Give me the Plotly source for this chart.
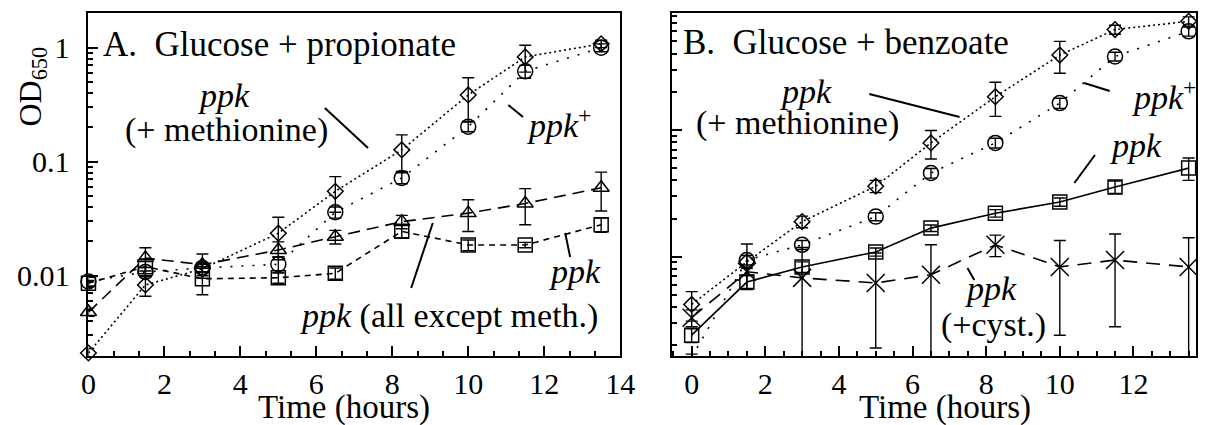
import plotly.graph_objects as go

W, H = 1212, 425

# ---------------- data ----------------
time_h = [0, 1.5, 3, 5, 6.5, 8.25, 10, 11.5, 13.5]

# Panel A: Glucose + propionate
a_ppk_plus = [0.0089, 0.0108, 0.0117, 0.0126, 0.036, 0.072, 0.203, 0.62, 1.0]
a_ppk_plus_err = [0.0008, 0.001, 0.001, 0.002, 0.004, 0.008, 0.02, 0.08, 0.08]
a_ppk_met = [0.0021, 0.0083, 0.0115, 0.0236, 0.055, 0.127, 0.385, 0.83, 1.08]
a_ppk_met_err = [0.0002, 0.0017, 0.0015, 0.009, 0.019, 0.045, 0.16, 0.22, 0.08]
a_ppk_all = [0.0048, 0.0143, 0.0125, 0.0168, 0.022, 0.0298, 0.0354, 0.043, 0.059]
a_ppk_all_err = [0.0004, 0.0033, 0.003, 0.003, 0.003, 0.004, 0.011, 0.015, 0.022]
a_ppk = [0.0086, 0.012, 0.0094, 0.0096, 0.0105, 0.0245, 0.0186, 0.0186, 0.028]
a_ppk_err = [0.0005, 0.002, 0.0026, 0.001, 0.0012, 0.003, 0.002, 0.001, 0.004]

# Panel B: Glucose + benzoate
b_ppk_plus = [0.0016, 0.0094, 0.0124, 0.0207, 0.0457, 0.079, 0.163, 0.38, 0.60]
b_ppk_plus_err = [0.0001, 0.0008, 0.001, 0.0015, 0.004, 0.007, 0.015, 0.03, 0.05]
b_ppk_met = [0.0042, 0.0091, 0.0189, 0.036, 0.079, 0.183, 0.39, 0.62, 0.72]
b_ppk_met_err = [0.0011, 0.0035, 0.002, 0.004, 0.02, 0.055, 0.11, 0.05, 0.06]
b_ppk = [0.0024, 0.0063, 0.0083, 0.0109, 0.0168, 0.022, 0.027, 0.0355, 0.050]
b_ppk_err = [0.0003, 0.0008, 0.0008, 0.0008, 0.001, 0.0015, 0.002, 0.004, 0.01]
b_cyst = [0.0033, 0.0076, 0.0068, 0.0062, 0.0072, 0.0124, 0.0083, 0.0094, 0.0083]
b_cyst_err_plus = [0.0005, 0.0005, 0.005, 0.0045, 0.0052, 0.0024, 0.0051, 0.0057, 0.0058]
b_cyst_err_minus = [0.0005, 0.0005, 0.0068, 0.0043, 0.0072, 0.0024, 0.0059, 0.0066, 0.0083]

FONT = "Liberation Serif"
BLACK = "black"


def px(x):
    return x / W


def py(y):
    return 1 - y / H


def series(xa, ya, yv, ep, em, symbol, size, dash):
    return go.Scatter(
        x=time_h, y=yv, xaxis=xa, yaxis=ya, mode="lines+markers",
        line=dict(color=BLACK, width=1.6, dash=dash),
        marker=dict(symbol=symbol, size=size, color=BLACK,
                    line=dict(color=BLACK, width=1.5)),
        error_y=dict(type="data", symmetric=False, array=ep, arrayminus=em,
                     color=BLACK, thickness=1.4, width=6),
        showlegend=False, cliponaxis=False, hoverinfo="skip",
    )


fig = go.Figure()
# Panel A
fig.add_trace(series("x", "y", a_ppk_plus, a_ppk_plus_err, a_ppk_plus_err, "circle-open", 15, "2px,9px"))
fig.add_trace(series("x", "y", a_ppk_met, a_ppk_met_err, a_ppk_met_err, "diamond-open", 12, "2px,3px"))
fig.add_trace(series("x", "y", a_ppk_all, a_ppk_all_err, a_ppk_all_err, "triangle-up-open", 14, "12px,7px"))
fig.add_trace(series("x", "y", a_ppk, a_ppk_err, a_ppk_err, "square-open", 14, "6px,5px"))
# Panel B
fig.add_trace(series("x2", "y2", b_ppk_plus, b_ppk_plus_err, b_ppk_plus_err, "circle-open", 15, "2px,9px"))
fig.add_trace(series("x2", "y2", b_ppk_met, b_ppk_met_err, b_ppk_met_err, "diamond-open", 12, "2px,3px"))
fig.add_trace(series("x2", "y2", b_ppk, b_ppk_err, b_ppk_err, "square-open", 14, "solid"))
fig.add_trace(series("x2", "y2", b_cyst, b_cyst_err_plus, b_cyst_err_minus, "x-thin-open", 18, "14px,9px"))

axis_common = dict(
    showline=True, linecolor=BLACK, linewidth=2, mirror=True,
    ticks="inside", ticklen=10, tickwidth=1.5, tickcolor=BLACK,
    showgrid=False, zeroline=False,
    tickfont=dict(family=FONT, size=30, color=BLACK),
)

fig.update_layout(
    width=W, height=H,
    margin=dict(l=0, r=0, t=0, b=0),
    paper_bgcolor="white", plot_bgcolor="white",
    font=dict(family=FONT, color=BLACK),
    xaxis=dict(domain=[px(82), px(624)], range=[0, 14], dtick=2, tick0=0,
               minor=dict(ticks="inside", ticklen=5, dtick=2 / 3, tick0=0, tickcolor=BLACK, tickwidth=1.5),
               anchor="y", **axis_common),
    yaxis=dict(domain=[py(356), py(13)], type="log", range=[-2.704, 0.304], dtick=1,
               minor=dict(ticks="inside", ticklen=5, dtick="D1", tickcolor=BLACK, tickwidth=1.5),
               anchor="x", ticklabelstandoff=11, **axis_common),
    xaxis2=dict(domain=[px(677), px(1211)], range=[-0.53, 13.7], dtick=2, tick0=0,
                minor=dict(ticks="inside", ticklen=5, dtick=0.5, tick0=0, tickcolor=BLACK, tickwidth=1.5),
                anchor="y2", **axis_common),
    yaxis2=dict(domain=[py(356), py(13)], type="log", range=[-2.784, -0.077], dtick=1,
                minor=dict(ticks="inside", ticklen=5, dtick="D1", tickcolor=BLACK, tickwidth=1.5),
                anchor="x2", showticklabels=False, **axis_common),
)


def label(text, x, y, xanchor="center", size=34, angle=0):
    fig.add_annotation(text=text, x=px(x), y=py(y), xref="paper", yref="paper",
                       xanchor=xanchor, yanchor="middle", showarrow=False,
                       font=dict(family=FONT, size=size, color=BLACK), textangle=angle)


def pointer(x0, y0, x1, y1):
    fig.add_shape(type="line", xref="paper", yref="paper",
                  x0=px(x0), y0=py(y0), x1=px(x1), y1=py(y1),
                  line=dict(color=BLACK, width=2))


# Panel A texts
label("A.\u00a0 Glucose + propionate", 95, 45, "left", size=35)
label("<i>ppk</i>", 220, 96)
label("(+ methionine)", 223, 130)
pointer(323, 108, 367, 148)
label("<i>ppk</i><sup>+</sup>", 527, 123, "left")
pointer(510, 105, 525, 117)
label("<i>ppk</i> (all except meth.)", 296, 316, "left")
pointer(433, 223, 411, 288)
label("<i>ppk</i>", 549, 271, "left")
pointer(568, 233, 573, 257)

# Panel B texts
label("B.\u00a0 Glucose + benzoate", 686, 42, "left", size=35)
label("<i>ppk</i>", 813, 91)
label("(+ methionine)", 805, 123)
pointer(878, 94, 970, 117)
label("<i>ppk</i><sup>+</sup>", 1144, 95, "left")
pointer(1097, 83, 1123, 91)
label("<i>ppk</i>", 1121, 145, "left")
pointer(1108, 155, 1087, 183)
label("<i>ppk</i>", 1002, 288)
label("(+cyst.)", 1005, 325)
pointer(978, 268, 985, 280)

# Axis titles
label("Time (hours)", 342, 407, size=33)
label("Time (hours)", 955, 407, size=33)
label("OD<sub>650</sub>", 24, 87, size=32, angle=-90)

fig.write_html("out.html", config={"displayModeBar": False},
               post_script="document.body.style.margin='0';document.body.style.overflow='hidden';")
